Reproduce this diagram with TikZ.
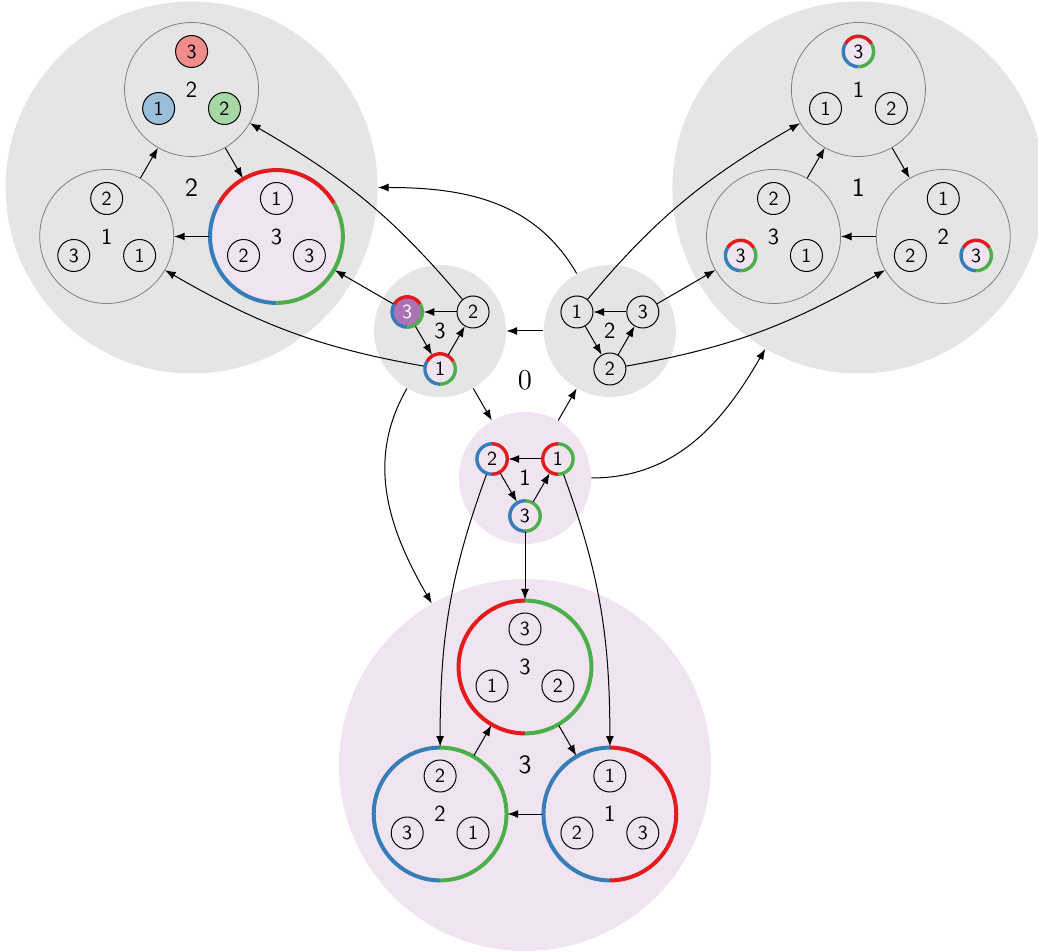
\documentclass[tikz,border=0pt]{standalone}
\usepackage{fontspec}
\usetikzlibrary{arrows.meta,calc}
\definecolor{sred}{HTML}{E41A1C}
\definecolor{sblue}{HTML}{377EB8}
\definecolor{sgreen}{HTML}{4DAF4A}
\definecolor{spurple}{HTML}{984EA3}
\colorlet{bggray}{black!10}
\colorlet{bgpink}{spurple!15}
\newcommand\ringtri[3]{%
  \draw[sred,line width=#3] ($(#1)+(30:#2)$) arc[start angle=30,end angle=150,radius=#2];
  \draw[sblue,line width=#3] ($(#1)+(150:#2)$) arc[start angle=150,end angle=270,radius=#2];
  \draw[sgreen,line width=#3] ($(#1)+(270:#2)$) arc[start angle=270,end angle=390,radius=#2];}
\newcommand\ringhalf[5]{%
  \draw[#4,line width=#3] ($(#1)+(90:#2)$) arc[start angle=90,end angle=270,radius=#2];
  \draw[#5,line width=#3] ($(#1)+(270:#2)$) arc[start angle=270,end angle=450,radius=#2];}
\begin{document}
\begin{tikzpicture}[x=0.5pt,y=0.5pt,
  nd/.style={circle,draw,line width=0.5pt,minimum size=16pt,inner sep=0pt,font=\sffamily\fontsize{10}{12}\selectfont},
  nr/.style={nd,draw=none},
  subc/.style={circle,draw=black!50,line width=0.4pt,minimum size=67pt,inner sep=0pt,font=\sffamily\fontsize{11.5}{13}\selectfont},
  subr/.style={subc,draw=none},
  midc/.style={circle,minimum size=66pt,inner sep=0pt,font=\sffamily\fontsize{11.5}{13}\selectfont},
  bigc/.style={circle,minimum size=186pt,inner sep=0pt,font=\sffamily\fontsize{13.2}{15}\selectfont},
  arr/.style={-{Latex[length=5.3pt,width=4pt]},line width=0.5pt},
]
\useasboundingbox (-525,380) rectangle (513,-572);
% level 0 backgrounds
\node[bigc,fill=bggray] (GL) at (150:385) {2};
\node[bigc,fill=bggray] (GR) at (30:385) {1};
\node[bigc,fill=bgpink] (GB) at (270:385) {3};
\node[midc,fill=bggray] (ML) at (150:98) {3};
\node[midc,fill=bggray] (MR) at (30:98) {2};
\node[midc,fill=bgpink] (MB) at (270:98) {1};
\node[font=\rmfamily\fontsize{14.4}{16}\selectfont] (O) at (0,0) {0};
% sub circles
\node[subc] (GLt) at ($(GL)+(90:98)$) {2};
\node[subc] (GLl) at ($(GL)+(210:98)$) {1};
\node[subr,fill=bgpink] (GLr) at ($(GL)+(330:98)$) {3};
\node[subc] (GRt) at ($(GR)+(90:98)$) {1};
\node[subc] (GRl) at ($(GR)+(210:98)$) {3};
\node[subc] (GRr) at ($(GR)+(330:98)$) {2};
\node[subr] (GBt) at ($(GB)+(90:98)$) {3};
\node[subr] (GBl) at ($(GB)+(210:98)$) {2};
\node[subr] (GBr) at ($(GB)+(330:98)$) {1};
\ringtri{GLr}{33.2pt}{2pt}
\ringhalf{GBt}{33.2pt}{2pt}{sred}{sgreen}
\ringhalf{GBl}{33.2pt}{2pt}{sblue}{sgreen}
\ringhalf{GBr}{33.2pt}{2pt}{sblue}{sred}
% leaves, top-left cluster
\node[nd,fill=sred!50] (GLt3) at ($(GLt)+(90:38)$) {3};
\node[nd,fill=sblue!50] (GLt1) at ($(GLt)+(210:38)$) {1};
\node[nd,fill=sgreen!50] (GLt2) at ($(GLt)+(330:38)$) {2};
\node[nd] (GLl2) at ($(GLl)+(90:38)$) {2};
\node[nd] (GLl3) at ($(GLl)+(210:38)$) {3};
\node[nd] (GLl1) at ($(GLl)+(330:38)$) {1};
\node[nd] (GLr1) at ($(GLr)+(90:38)$) {1};
\node[nd] (GLr2) at ($(GLr)+(210:38)$) {2};
\node[nd] (GLr3) at ($(GLr)+(330:38)$) {3};
% leaves, top-right cluster
\node[nr,fill=bgpink] (GRt3) at ($(GRt)+(90:38)$) {3};
\node[nd] (GRt1) at ($(GRt)+(210:38)$) {1};
\node[nd] (GRt2) at ($(GRt)+(330:38)$) {2};
\node[nd] (GRl2) at ($(GRl)+(90:38)$) {2};
\node[nr,fill=bgpink] (GRl3) at ($(GRl)+(210:38)$) {3};
\node[nd] (GRl1) at ($(GRl)+(330:38)$) {1};
\node[nd] (GRr1) at ($(GRr)+(90:38)$) {1};
\node[nd] (GRr2) at ($(GRr)+(210:38)$) {2};
\node[nr,fill=bgpink] (GRr3) at ($(GRr)+(330:38)$) {3};
\ringtri{GRt3}{7.6pt}{1.7pt}
\ringtri{GRl3}{7.6pt}{1.7pt}
\ringtri{GRr3}{7.6pt}{1.7pt}
% leaves, bottom cluster
\node[nd] (GBt3) at ($(GBt)+(90:38)$) {3};
\node[nd] (GBt1) at ($(GBt)+(210:38)$) {1};
\node[nd] (GBt2) at ($(GBt)+(330:38)$) {2};
\node[nd] (GBl2) at ($(GBl)+(90:38)$) {2};
\node[nd] (GBl3) at ($(GBl)+(210:38)$) {3};
\node[nd] (GBl1) at ($(GBl)+(330:38)$) {1};
\node[nd] (GBr1) at ($(GBr)+(90:38)$) {1};
\node[nd] (GBr2) at ($(GBr)+(210:38)$) {2};
\node[nd] (GBr3) at ($(GBr)+(330:38)$) {3};
% middle leaves
\node[nr,fill=spurple!80,text=white] (ML3) at ($(ML)+(150:38)$) {3};
\node[nd] (ML2) at ($(ML)+(30:38)$) {2};
\node[nr,fill=bgpink] (ML1) at ($(ML)+(270:38)$) {1};
\ringtri{ML3}{7.6pt}{1.7pt}
\ringtri{ML1}{7.6pt}{1.7pt}
\node[nd] (MR1) at ($(MR)+(150:38)$) {1};
\node[nd] (MR3) at ($(MR)+(30:38)$) {3};
\node[nd] (MR2) at ($(MR)+(270:38)$) {2};
\node[nr] (MB2) at ($(MB)+(150:38)$) {2};
\node[nr] (MB1) at ($(MB)+(30:38)$) {1};
\node[nr] (MB3) at ($(MB)+(270:38)$) {3};
\ringhalf{MB2}{7.6pt}{1.7pt}{sblue}{sred}
\ringhalf{MB1}{7.6pt}{1.7pt}{sred}{sgreen}
\ringhalf{MB3}{7.6pt}{1.7pt}{sblue}{sgreen}
% edges inside big clusters
\draw[arr] (GLt) -- (GLr); \draw[arr] (GLr) -- (GLl); \draw[arr] (GLl) -- (GLt);
\draw[arr] (GRt) -- (GRr); \draw[arr] (GRr) -- (GRl); \draw[arr] (GRl) -- (GRt);
\draw[arr] (GBt) -- (GBr); \draw[arr] (GBr) -- (GBl); \draw[arr] (GBl) -- (GBt);
% edges inside middle clusters
\draw[arr] (ML2) -- (ML3); \draw[arr] (ML3) -- (ML1); \draw[arr] (ML1) -- (ML2);
\draw[arr] (MR3) -- (MR1); \draw[arr] (MR1) -- (MR2); \draw[arr] (MR2) -- (MR3);
\draw[arr] (MB1) -- (MB2); \draw[arr] (MB2) -- (MB3); \draw[arr] (MB3) -- (MB1);
\draw[arr] (ML) -- (MB); \draw[arr] (MB) -- (MR); \draw[arr] (MR) -- (ML);
% level-crossing edges
\draw[arr] (MR) to[out=120,in=0] (GL);
\draw[arr] (MB) to[out=0,in=240] (GR);
\draw[arr] (ML) to[out=240,in=120] (GB);
\draw[arr] (ML2) to[out=130,in=-30] (GLt);
\draw[arr] (ML3) -- (GLr);
\draw[arr] (ML1) to[out=170,in=-30] (GLl);
\draw[arr] (MR1) to[out=50,in=210] (GRt);
\draw[arr] (MR3) -- (GRl);
\draw[arr] (MR2) to[out=10,in=210] (GRr);
\draw[arr] (MB2) to[out=250,in=90] (GBl);
\draw[arr] (MB3) -- (GBt);
\draw[arr] (MB1) to[out=290,in=90] (GBr);
\end{tikzpicture}
\end{document}
